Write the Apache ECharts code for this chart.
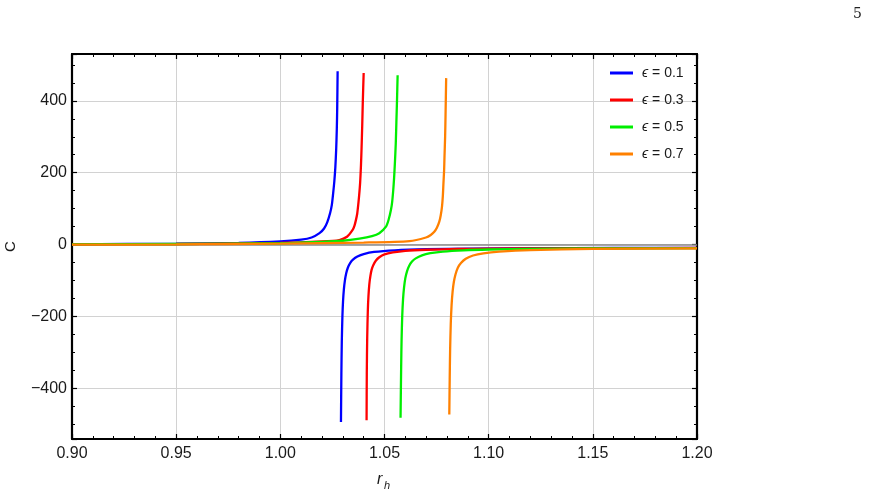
<!DOCTYPE html>
<html><head><meta charset="utf-8">
<script src="https://cdn.jsdelivr.net/npm/echarts@6/dist/echarts.min.js"></script>
<style>html,body{margin:0;padding:0;background:#fff}#c{width:873px;height:495px}</style>
</head><body><div id="c"></div><script>
// ---- data ----
const epsValues = ['0.1', '0.3', '0.5', '0.7'];
const xTickMin = 0.90, xTickMax = 1.20, xTickStep = 0.05;
const yMin = -540, yMax = 530;

const r01Pos = [0.90, 0.95, 0.98, 1.00, 1.01, 1.015, 1.0188, 1.021, 1.0225, 1.0239, 1.0247, 1.0253, 1.0259, 1.0264, 1.0268, 1.0271, 1.0273, 1.0275];
const c01Pos = [1, 3, 5, 9, 14, 20, 32, 45, 62, 88, 110, 140, 175, 215, 264, 320, 380, 482];
const r01Neg = [1.0291, 1.0293, 1.0295, 1.0298, 1.0301, 1.0305, 1.0310, 1.0316, 1.0324, 1.0335, 1.0350, 1.0370, 1.040, 1.045, 1.055, 1.07, 1.09, 1.12, 1.16, 1.20];
const c01Neg = [-493, -358, -270, -198, -157, -124, -99, -80, -64, -51, -41, -33, -26, -20, -15.5, -12.6, -10.9, -9.8, -9.1, -8.7];

const r03Pos = [0.90, 0.95, 1.00, 1.02, 1.0283, 1.032, 1.0347, 1.0356, 1.0363, 1.0369, 1.0373, 1.0378, 1.0383, 1.0387, 1.0390, 1.0393, 1.0396, 1.0400];
const c03Pos = [1, 2, 5, 9, 13, 22, 41, 53, 69, 86, 106, 135, 172, 220, 270, 330, 400, 477];
const r03Neg = [1.0414, 1.0415, 1.0417, 1.0420, 1.0423, 1.0427, 1.0432, 1.0438, 1.0446, 1.0459, 1.0475, 1.0500, 1.054, 1.060, 1.070, 1.085, 1.10, 1.13, 1.16, 1.20];
const c03Neg = [-488, -358, -258, -183, -143, -111, -88, -70, -57, -44, -35, -27, -21.5, -17, -14, -12, -11, -10, -9.5, -9.1];

const r05Pos = [0.90, 0.95, 1.00, 1.02, 1.03, 1.038, 1.044, 1.0475, 1.0507, 1.052, 1.0531, 1.0537, 1.0542, 1.0546, 1.0550, 1.0554, 1.0557, 1.0560, 1.0563];
const c05Pos = [1, 2, 4, 8, 11, 17, 24, 32, 50, 70, 97, 120, 152, 185, 228, 280, 340, 400, 471];
const r05Neg = [1.0577, 1.0580, 1.0582, 1.0585, 1.0589, 1.0594, 1.0600, 1.0608, 1.0618, 1.0632, 1.0650, 1.0680, 1.0720, 1.078, 1.088, 1.10, 1.12, 1.15, 1.20];
const c05Neg = [-481, -337, -264, -200, -152, -118, -93, -74, -59, -47, -38, -29.5, -23.6, -19, -15.5, -13.4, -11.7, -10.5, -9.6];

const r07Pos = [0.90, 0.95, 1.00, 1.04, 1.062, 1.0699, 1.0722, 1.0739, 1.0752, 1.0763, 1.0770, 1.0776, 1.0780, 1.0783, 1.0786, 1.0788, 1.0791, 1.0793, 1.0796];
const c07Pos = [0, 1, 3, 6, 10, 20, 27, 36, 48, 64, 82, 106, 135, 171, 205, 245, 300, 360, 463];
const r07Neg = [1.0811, 1.0813, 1.0815, 1.0818, 1.0822, 1.0827, 1.0833, 1.0841, 1.0852, 1.0867, 1.0890, 1.0925, 1.0975, 1.105, 1.12, 1.15, 1.20];
const c07Neg = [-472, -373, -292, -221, -168, -130, -103, -82, -64, -51, -39, -30, -24, -19.5, -15, -11.7, -10];

// ---- build ----
const zip = (a, b) => a.map((v, i) => [v, b[i]]);
const branches = [
  [r01Pos, c01Pos, r01Neg, c01Neg],
  [r03Pos, c03Pos, r03Neg, c03Neg],
  [r05Pos, c05Pos, r05Neg, c05Neg],
  [r07Pos, c07Pos, r07Neg, c07Neg]
];
const colors = ['#0000ff', '#ff0000', '#00ee00', '#ff8000'];
const FONT = 'Liberation Sans, Arial, sans-serif';
const TXT = '#1a1a1a';

const series = [];
branches.forEach((b, i) => {
  [[b[0], b[1]], [b[2], b[3]]].forEach(([xs, ys], k) => {
    series.push({
      type: 'line', name: epsValues[i], xAxisIndex: 0, yAxisIndex: 0,
      data: zip(xs, ys), showSymbol: false, symbol: 'none',
      smooth: 0.25, color: colors[i],
      lineStyle: { width: 2.3, color: colors[i] }, z: 3 + i,
      markLine: (i === 0 && k === 0) ? {
        silent: true, symbol: 'none', label: { show: false },
        lineStyle: { color: '#8a8a8a', width: 1.5, type: 'solid' },
        data: [{ yAxis: 0 }], z: 1
      } : undefined
    });
  });
});

const axisLineStyle = { show: true, onZero: false, lineStyle: { color: '#000', width: 2.2 } };
const tickStyle = { show: true, inside: true, length: 5, lineStyle: { color: '#000', width: 1.2 } };
const minorX = { show: true, splitNumber: 5, length: 3, lineStyle: { color: '#000', width: 1 } };
const minorY = { show: true, splitNumber: 4, length: 3, lineStyle: { color: '#000', width: 1 } };

const option = {
  animation: false,
  backgroundColor: '#fff',
  grid: { left: 72, right: 176, top: 54, bottom: 56, containLabel: false, outerBoundsMode: 'none' },
  xAxis: [
    {
      type: 'value', min: xTickMin, max: xTickMax, interval: xTickStep, position: 'bottom',
      axisLine: axisLineStyle, axisTick: tickStyle, minorTick: minorX,
      splitLine: { show: true, lineStyle: { color: '#d2d2d2', width: 1 } },
      axisLabel: { color: TXT, fontSize: 16, fontFamily: FONT, margin: 7, formatter: v => v.toFixed(2) }
    },
    {
      type: 'value', min: xTickMin, max: xTickMax, interval: xTickStep, position: 'top',
      axisLine: axisLineStyle, axisTick: tickStyle, minorTick: minorX,
      splitLine: { show: false }, axisLabel: { show: false }
    }
  ],
  yAxis: [
    {
      type: 'value', min: yMin, max: yMax, splitNumber: 5, position: 'left',
      axisLine: axisLineStyle, axisTick: tickStyle, minorTick: minorY,
      splitLine: { show: true, lineStyle: { color: '#d2d2d2', width: 1 } },
      axisLabel: {
        color: TXT, fontSize: 16, fontFamily: FONT, margin: 5,
        showMinLabel: false, showMaxLabel: false,
        formatter: v => (v < 0 ? '\u2212' + Math.abs(v) : String(v))
      },
      name: 'C', nameLocation: 'middle', nameGap: 54,
      nameTextStyle: { color: TXT, fontSize: 15, fontFamily: FONT }
    },
    {
      type: 'value', min: yMin, max: yMax, splitNumber: 5, position: 'right',
      axisLine: axisLineStyle, axisTick: tickStyle, minorTick: minorY,
      splitLine: { show: false }, axisLabel: { show: false }
    }
  ],
  legend: {
    orient: 'vertical', left: 610, top: 65, padding: 0,
    data: epsValues, icon: 'rect', itemWidth: 23, itemHeight: 3, itemGap: 11,
    formatter: n => '{i|\u03f5} = ' + n,
    textStyle: {
      color: TXT, fontSize: 14, fontFamily: FONT, lineHeight: 16, padding: [0, 0, 0, 4],
      rich: { i: { fontStyle: 'italic', fontSize: 14, fontFamily: FONT, color: TXT } }
    }
  },
  graphic: [
    { type: 'text', left: 377, top: 472, style: { text: 'r', font: 'italic 16px ' + FONT, fill: TXT } },
    { type: 'text', left: 384, top: 480, style: { text: 'h', font: 'italic 11px ' + FONT, fill: TXT } },
    { type: 'text', left: 853, top: 7, style: { text: '5', font: '14px "DejaVu Serif", "Liberation Serif", serif', fill: '#222' } }
  ],
  series: series
};
echarts.init(document.getElementById('c'), null, { renderer: 'canvas' }).setOption(option);
</script></body></html>
